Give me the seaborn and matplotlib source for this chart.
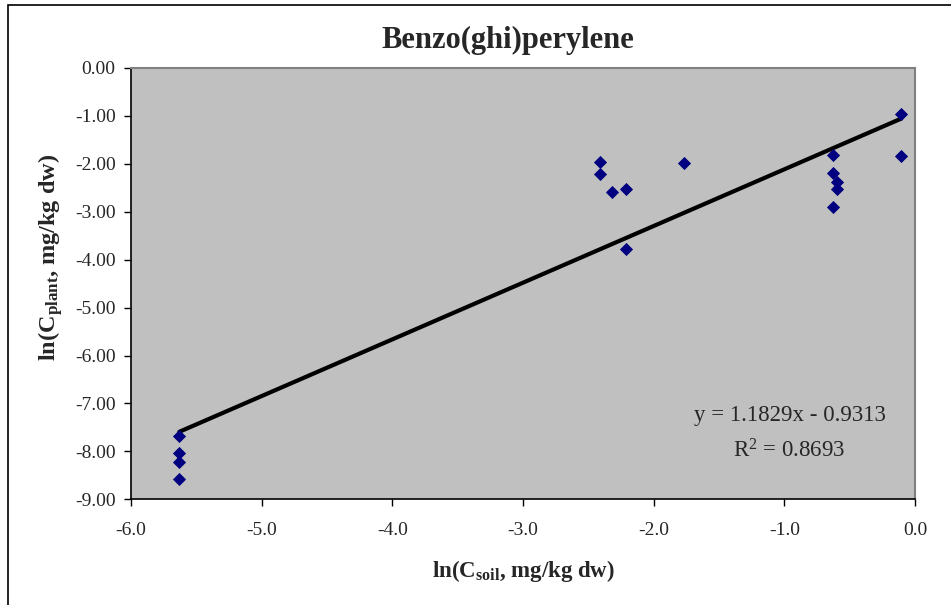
import matplotlib
matplotlib.use("Agg")
import matplotlib.pyplot as plt
import seaborn as sns
import pandas as pd
from matplotlib.patches import Rectangle

# Data
ln_c_soil = [-5.63, -5.63, -5.63, -5.63,
             -2.41, -2.41, -2.32, -2.21, -2.21, -1.77,
             -0.63, -0.63, -0.63, -0.595, -0.595, -0.105, -0.105]
ln_c_plant = [-7.67, -8.04, -8.23, -8.57,
              -1.97, -2.21, -2.58, -2.52, -3.77, -1.99,
              -1.82, -2.20, -2.90, -2.37, -2.53, -0.97, -1.83]
slope = 1.1829
intercept = -0.9313
r_squared = 0.8693
x_ticks = [-6.0, -5.0, -4.0, -3.0, -2.0, -1.0, 0.0]
y_ticks = [0.0, -1.0, -2.0, -3.0, -4.0, -5.0, -6.0, -7.0, -8.0, -9.0]

df = pd.DataFrame({"x": ln_c_soil, "y": ln_c_plant})
xr = [min(ln_c_soil), max(ln_c_soil)]
trend = pd.DataFrame({"x": xr, "y": [slope * v + intercept for v in xr]})

sns.set_theme(style="white")
plt.rcParams["font.family"] = ["Liberation Serif", "DejaVu Serif"]
plt.rcParams["mathtext.fontset"] = "custom"
plt.rcParams["mathtext.rm"] = "Liberation Serif"
plt.rcParams["mathtext.bf"] = "Liberation Serif:bold"
plt.rcParams["mathtext.it"] = "Liberation Serif:italic"

fig = plt.figure(figsize=(9.51, 6.05), dpi=100)
ax = fig.add_axes([131 / 951, 1 - 499.3 / 605, (915 - 131) / 951, (499.3 - 68) / 605])
ax.set_facecolor("#C0C0C0")

sns.lineplot(data=trend, x="x", y="y", ax=ax, color="black", linewidth=3, zorder=2)
sns.scatterplot(data=df, x="x", y="y", ax=ax, marker="D", s=45, color="#000080",
                edgecolor="#000080", linewidth=0, zorder=3)

ax.set_xlim(-6.0, 0.0)
ax.set_ylim(-9.0, 0.0)
ax.set_xticks(x_ticks)
ax.set_xticklabels([f"{v:.1f}" for v in x_ticks])
ax.set_yticks(y_ticks)
ax.set_yticklabels([f"{v:.2f}" for v in y_ticks])
ax.tick_params(axis="both", which="both", labelsize=14, length=5, width=1,
               color="black", direction="out", bottom=True, left=True)
ax.tick_params(axis="x", pad=11)
ax.tick_params(axis="y", pad=6)
for side in ["top", "right"]:
    ax.spines[side].set_color("#808080")
    ax.spines[side].set_linewidth(1.5)
for side in ["bottom", "left"]:
    ax.spines[side].set_color("black")
    ax.spines[side].set_linewidth(1.2)

ax.set_xlabel(r"ln(C$_{\mathbf{soil}}$, mg/kg dw)", fontsize=16.5, fontweight="bold", labelpad=14)
ax.set_ylabel(r"ln(C$_{\mathbf{plant}}$, mg/kg dw)", fontsize=17.5, fontweight="bold")
ax.yaxis.set_label_coords(-0.084, 0.56)
fig.text(508 / 951, 1 - 40 / 605, "Benzo(ghi)perylene", ha="center", va="center",
         fontsize=22, fontweight="bold")

ax.text(0.84, 0.195, f"y = {slope:.4f}x - {abs(intercept):.4f}", transform=ax.transAxes,
        ha="center", va="center", fontsize=16.5)
ax.text(0.84, 0.113, f"R$^2$ = {r_squared:.4f}", transform=ax.transAxes,
        ha="center", va="center", fontsize=16.5)

fig.patches.append(Rectangle((8 / 951, -0.1), 1.0, 1.1 - 5 / 605, transform=fig.transFigure,
                             fill=False, edgecolor="black", linewidth=1.2))

fig.savefig("out.png", dpi=100, facecolor="white")
